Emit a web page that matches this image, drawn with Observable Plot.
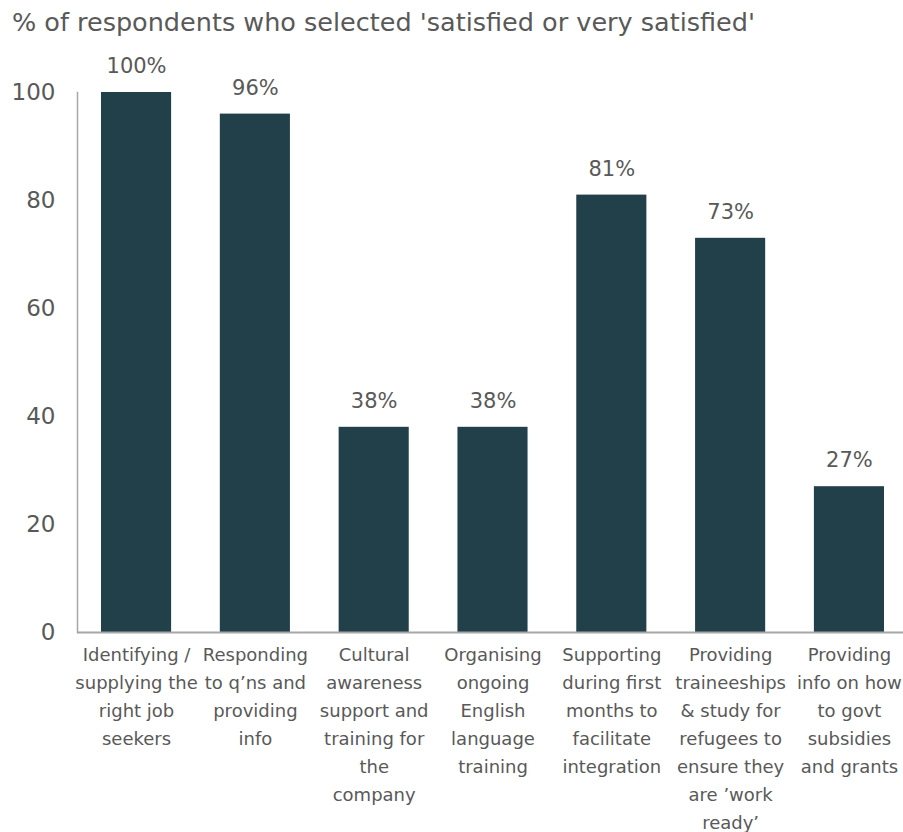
<!DOCTYPE html>
<html>
<head>
<meta charset="utf-8">
<script src="https://cdn.jsdelivr.net/npm/d3@7"></script>
<script src="https://cdn.jsdelivr.net/npm/@observablehq/plot@0.6"></script>
<style>
  html, body { margin: 0; padding: 0; background: #fff; overflow: hidden; }
  #title { font-family: "DejaVu Sans", sans-serif; font-size: 25.5px; color: #595959; padding-left: 12px; height: 44px; line-height: 44px; white-space: nowrap; }
</style>
</head>
<body>
<div id="title">% of respondents who selected 'satisfied or very satisfied'</div>
<div id="chart"></div>
<script>
const categories = ["Identifying", "Responding", "Cultural", "Organising", "Supporting", "Traineeships", "Subsidies"];
const categoryLabels = [
  "Identifying /\nsupplying the\nright job\nseekers",
  "Responding\nto q’ns and\nproviding\ninfo",
  "Cultural\nawareness\nsupport and\ntraining for\nthe\ncompany",
  "Organising\nongoing\nEnglish\nlanguage\ntraining",
  "Supporting\nduring first\nmonths to\nfacilitate\nintegration",
  "Providing\ntraineeships\n& study for\nrefugees to\nensure they\nare ’work\nready’",
  "Providing\ninfo on how\nto govt\nsubsidies\nand grants"
];
const values = [100, 96, 38, 38, 81, 73, 27];
const yTicks = [0, 20, 40, 60, 80, 100];

const data = categories.map((c, i) => ({cat: c, label: categoryLabels[i], value: values[i]}));
const font = "DejaVu Sans, sans-serif";
const grey = "#595959";

const chart = Plot.plot({
  width: 910,
  height: 788,
  marginTop: 48,
  marginBottom: 200,
  marginLeft: 77,
  marginRight: 2,
  style: {fontFamily: font, color: grey, maxWidth: "none", overflow: "visible"},
  x: {domain: categories, paddingInner: 0.41, paddingOuter: 0.202, round: false, axis: null},
  y: {domain: [0, 100], ticks: yTicks},
  marks: [
    Plot.barY(data, {x: "cat", y: "value", fill: "#21404a"}),
    Plot.axisY({ticks: yTicks, tickSize: 0, tickPadding: 22, fontSize: 23, fill: grey, label: null}),
    Plot.frame({anchor: "left", stroke: "#a6a6a6", strokeWidth: 1.5}),
    Plot.ruleY([0], {stroke: "#a6a6a6", strokeWidth: 2}),
    Plot.text(data, {x: "cat", y: "value", text: d => d.value + "%", dy: -26, fontSize: 21, fill: grey}),
    Plot.text(data, {x: "cat", y: 0, text: "label", lineAnchor: "top", dy: 9, fontSize: 18, lineHeight: 1.55, fill: grey})
  ]
});
document.getElementById("chart").appendChild(chart);
</script>
</body>
</html>
